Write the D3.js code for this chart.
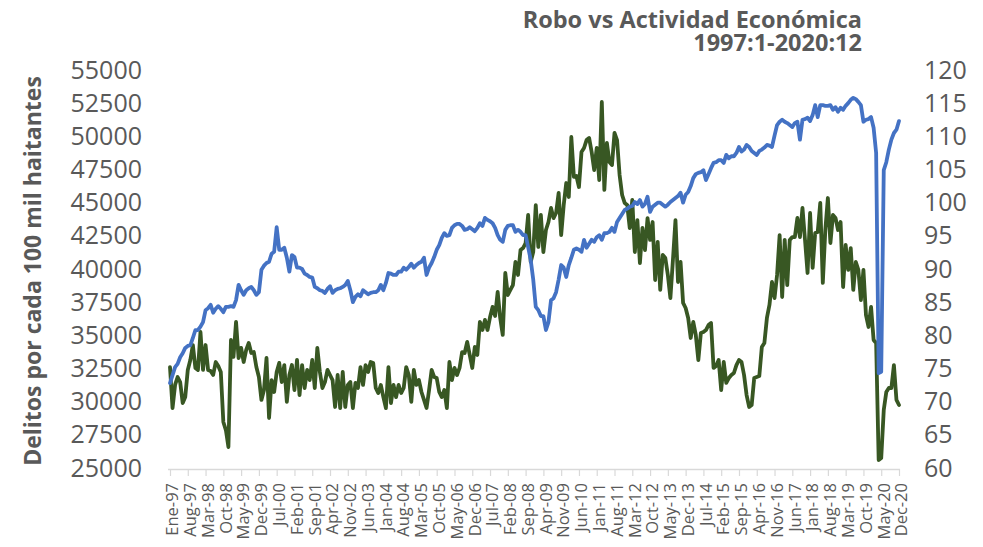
<!DOCTYPE html>
<html>
<head>
<meta charset="utf-8">
<script src="https://cdn.jsdelivr.net/npm/d3@7"></script>
<style>
  html, body { margin: 0; padding: 0; background: #fff; }
  svg { display: block; font-family: "Open Sans", "DejaVu Sans", sans-serif; }
</style>
</head>
<body>
<svg id="chart" width="983" height="547"></svg>
<script>
// ---- DATA ----
const titleLines = ["Robo vs Actividad Económica", "1997:1-2020:12"];
const yLeftTitle = "Delitos por cada 100 mil haitantes";
const leftTicks = [25000, 27500, 30000, 32500, 35000, 37500, 40000, 42500, 45000, 47500, 50000, 52500, 55000];
const rightTicks = [60, 65, 70, 75, 80, 85, 90, 95, 100, 105, 110, 115, 120];
const tickLabels = ["Ene-97","Aug-97","Mar-98","Oct-98","May-99","Dec-99","Jul-00","Feb-01","Sep-01","Apr-02","Nov-02",
  "Jun-03","Jan-04","Aug-04","Mar-05","Oct-05","May-06","Dec-06","Jul-07","Feb-08","Sep-08","Apr-09","Nov-09",
  "Jun-10","Jan-11","Aug-11","Mar-12","Oct-12","May-13","Dec-13","Jul-14","Feb-15","Sep-15","Apr-16","Nov-16",
  "Jun-17","Jan-18","Aug-18","Mar-19","Oct-19","May-20","Dec-20"];
const tickStep = 7; // months between labels

// Robo (delitos por cada 100 mil habitantes), monthly 1997:1 - 2020:12 (left axis)
const robo = [
  32610, 29520, 31260, 31860, 31480, 29900, 30350, 32390, 33140, 34270, 32540, 32390, // 1997
  35250, 32390, 34270, 32390, 32310, 32010, 32990, 32690, 32240, 28470, 27860, 26580, // 1998
  34650, 33370, 36010, 33290, 34050, 32990, 33900, 34420, 33670, 33740, 32610, 31860, // 1999
  30130, 30880, 33290, 28770, 31630, 30730, 32240, 32920, 31480, 32760, 29980, 32010, // 2000
  32760, 30880, 33140, 30500, 32760, 31030, 32390, 31630, 33140, 31030, 34050, 32240, // 2001
  31030, 31480, 32390, 32010, 31630, 29600, 32010, 29520, 32240, 29600, 31260, 31480, // 2002
  29520, 31410, 31030, 32610, 31260, 32760, 32240, 32990, 32920, 31030, 30650, 31260, // 2003
  30350, 29520, 32610, 29900, 31260, 30350, 31260, 30650, 31030, 32610, 32010, 29980, // 2004
  32390, 31260, 31630, 30730, 30130, 29520, 30880, 32390, 31860, 31780, 30730, 30350, // 2005
  30880, 29520, 32990, 31630, 32540, 32010, 32540, 33740, 33670, 34500, 33520, 32540, // 2006
  34120, 33520, 36010, 35400, 36160, 35400, 36380, 37140, 36460, 38270, 36310, 35030, // 2007
  39700, 38040, 38420, 38790, 40530, 39550, 41430, 41580, 41960, 44070, 40530, 41280, // 2008
  44820, 41660, 44070, 41280, 42940, 43540, 44600, 43840, 44220, 45730, 42560, 44820, // 2009
  46480, 45430, 49950, 46940, 47010, 46180, 48820, 49120, 49720, 49880, 48820, 47460, // 2010
  49120, 46710, 52590, 45960, 49500, 48070, 47840, 50250, 49720, 47090, 45580, 44980, // 2011
  44830, 43090, 45200, 41280, 43690, 40450, 43090, 41430, 43840, 42190, 43540, 39170, // 2012
  42040, 38420, 41060, 40830, 39550, 37810, 40680, 43690, 39020, 40530, 37440, 37060, // 2013
  36310, 34800, 36010, 35030, 33140, 35180, 35250, 35400, 35780, 35930, 32540, 32690, // 2014
  33140, 30880, 32990, 31410, 31780, 32010, 32160, 32760, 33140, 32990, 32010, 30500, // 2015
  29600, 29750, 31780, 31860, 31930, 34120, 34420, 36310, 37290, 39020, 37810, 39550, // 2016
  42560, 37890, 42190, 38790, 42190, 42410, 42410, 43850, 42410, 44600, 42190, 39700, // 2017
  44220, 40080, 42710, 42790, 44980, 38950, 42940, 45350, 41960, 44070, 43850, 42940, // 2018
  43540, 38640, 41810, 39930, 41580, 38420, 40530, 39930, 37660, 39930, 36530, 35630, // 2019
  37140, 34650, 34420, 25600, 25750, 29370, 30730, 31030, 31030, 32760, 30130, 29750  // 2020
];

// Actividad económica (índice), monthly 1997:1 - 2020:12 (right axis)
const igae = [
  72.8, 74.0, 75.2, 75.7, 76.7, 77.3, 78.1, 78.4, 78.5, 79.6, 80.8, 80.8,   // 1997
  81.3, 82.0, 83.8, 84.1, 84.6, 83.4, 84.0, 84.4, 84.0, 83.5, 84.3, 84.3,   // 1998
  84.4, 84.3, 85.3, 87.6, 86.8, 86.1, 86.8, 87.1, 87.3, 86.8, 86.1, 86.5,   // 1999
  89.9, 90.5, 90.9, 91.1, 92.3, 92.6, 96.3, 92.9, 92.9, 93.2, 91.7, 89.6,   // 2000
  92.1, 91.8, 90.2, 90.2, 90.0, 89.3, 89.1, 88.8, 88.7, 87.3, 87.1, 86.8,   // 2001
  86.7, 86.4, 87.0, 87.4, 86.4, 86.8, 87.0, 87.1, 87.3, 87.6, 88.2, 86.8,   // 2002
  85.0, 85.8, 86.2, 85.9, 86.8, 86.5, 86.2, 86.4, 86.5, 86.5, 86.8, 87.6,   // 2003
  86.8, 87.9, 89.4, 89.3, 89.1, 89.1, 89.6, 89.6, 90.2, 89.9, 90.3, 90.8,   // 2004
  90.2, 90.6, 90.9, 91.1, 91.7, 89.1, 90.2, 90.9, 91.8, 92.9, 93.6, 94.7,   // 2005
  95.4, 95.0, 95.1, 96.2, 96.6, 96.8, 96.8, 96.5, 95.9, 96.0, 96.3, 96.0,   // 2006
  95.7, 96.2, 96.9, 96.5, 97.7, 97.4, 97.2, 96.9, 96.2, 95.1, 94.4, 94.1,   // 2007
  95.9, 96.5, 96.6, 96.6, 95.6, 95.9, 95.6, 95.1, 95.1, 93.3, 91.4, 88.4,   // 2008
  84.3, 83.8, 82.9, 82.9, 80.8, 82.0, 85.3, 85.6, 86.5, 88.4, 90.6, 90.2,   // 2009
  88.8, 90.6, 91.7, 92.9, 93.1, 92.9, 92.6, 94.4, 93.2, 93.8, 94.4, 94.1,   // 2010
  94.8, 95.1, 94.4, 95.4, 95.4, 95.6, 96.2, 95.6, 97.1, 97.7, 98.3, 98.9,   // 2011
  99.1, 99.4, 99.5, 100.1, 99.8, 100.4, 99.4, 99.8, 100.9, 98.6, 99.4, 99.7, // 2012
  100.0, 100.0, 99.7, 99.4, 99.7, 100.1, 100.4, 100.7, 101.0, 101.5, 100.0, 101.2, // 2013
  101.6, 102.5, 103.7, 104.3, 104.5, 104.6, 104.9, 103.4, 104.3, 105.2, 106.0, 106.1, // 2014
  106.4, 106.4, 106.0, 107.2, 106.7, 107.0, 107.0, 107.5, 108.4, 107.7, 108.0, 108.7, // 2015
  108.4, 107.8, 107.5, 107.2, 107.8, 108.0, 108.3, 108.7, 108.6, 108.4, 110.1, 111.7, // 2016
  112.2, 112.5, 112.2, 112.0, 111.7, 111.4, 112.0, 112.2, 109.5, 112.5, 112.6, 112.8, // 2017
  112.3, 113.2, 114.7, 112.9, 114.7, 114.7, 114.6, 114.6, 114.7, 114.0, 114.4, 113.7, // 2018
  114.3, 114.0, 114.6, 115.0, 115.5, 115.8, 115.6, 115.2, 114.7, 112.2, 112.5, 112.6, // 2019
  112.9, 111.3, 107.5, 74.3, 74.5, 104.9, 106.1, 108.0, 109.5, 110.5, 111.0, 112.3   // 2020
];

// ---- CHART ----
const svg = d3.select("#chart");
const m = { left: 170, right: 899, top: 70, bottom: 468 };
const textColor = "#595959";

const idx = d3.range(robo.length);
const x = d3.scaleLinear().domain([0, robo.length - 1]).range([m.left, m.right]);
const yL = d3.scaleLinear().domain([25000, 55000]).range([m.bottom, m.top]);
const yR = d3.scaleLinear().domain([60, 120]).range([m.bottom, m.top]);

// Title (one text block, two lines)
svg.append("text")
  .attr("text-anchor", "end")
  .attr("font-size", 23.5).attr("font-weight", 700)
  .attr("fill", textColor)
  .selectAll("tspan").data(titleLines).join("tspan")
  .attr("x", 862).attr("y", (d, i) => 28 + i * 23)
  .text(d => d);

// Left axis
const gL = svg.append("g").attr("transform", `translate(${m.left},0)`)
  .call(d3.axisLeft(yL).tickValues(leftTicks).tickSize(0).tickPadding(28).tickFormat(d3.format("d")));
gL.select(".domain").remove();
gL.selectAll("text").attr("font-size", 25).attr("fill", textColor).attr("font-family", "Open Sans, sans-serif");

// Right axis
const gR = svg.append("g").attr("transform", `translate(${m.right},0)`)
  .call(d3.axisRight(yR).tickValues(rightTicks).tickSize(0).tickPadding(25).tickFormat(d3.format("d")));
gR.select(".domain").remove();
gR.selectAll("text").attr("font-size", 25).attr("fill", textColor).attr("font-family", "Open Sans, sans-serif");

// Left axis title
svg.append("text")
  .attr("transform", `translate(41,${(m.top + m.bottom) / 2 + 2}) rotate(-90)`)
  .attr("text-anchor", "middle")
  .attr("font-size", 23).attr("font-weight", 700)
  .attr("fill", textColor)
  .text(yLeftTitle);

// Bottom axis
const tickIdx = tickLabels.map((_, i) => i * tickStep);
const gB = svg.append("g").attr("transform", `translate(0,${m.bottom + 1})`)
  .call(d3.axisBottom(x).tickValues(tickIdx).tickSize(7).tickSizeOuter(0)
    .tickFormat((d, i) => tickLabels[i]));
gB.select(".domain").attr("stroke", "#d9d9d9").attr("stroke-width", 1.5)
  .attr("d", `M${m.left - 2},0.5H${m.right + 1}`);
gB.selectAll(".tick line").attr("stroke", "#d9d9d9").attr("stroke-width", 1.2);
gB.selectAll("text")
  .attr("font-size", 16.5).attr("fill", textColor).attr("font-family", "Open Sans, sans-serif")
  .attr("transform", "rotate(-90)")
  .attr("text-anchor", "end")
  .attr("x", -14).attr("y", 2).attr("dy", "0.35em");

// Lines
const lineL = d3.line().x(i => x(i)).y(i => yL(robo[i]));
const lineR = d3.line().x(i => x(i)).y(i => yR(igae[i]));

svg.append("path").datum(idx)
  .attr("d", lineL).attr("fill", "none")
  .attr("stroke", "#385723").attr("stroke-width", 3.8)
  .attr("stroke-linejoin", "round").attr("stroke-linecap", "round");

svg.append("path").datum(idx)
  .attr("d", lineR).attr("fill", "none")
  .attr("stroke", "#4472C4").attr("stroke-width", 3.8)
  .attr("stroke-linejoin", "round").attr("stroke-linecap", "round");
</script>
</body>
</html>
